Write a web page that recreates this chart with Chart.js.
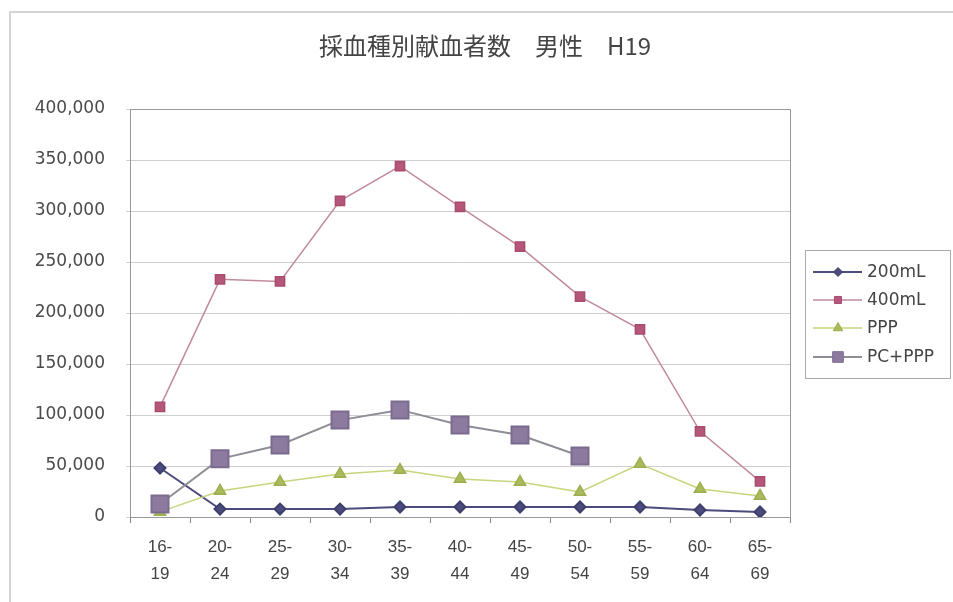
<!DOCTYPE html>
<html>
<head>
<meta charset="utf-8">
<script src="https://cdn.jsdelivr.net/npm/chart.js@4.4.1/dist/chart.umd.min.js"></script>
<style>
  html, body { margin: 0; padding: 0; background: #fff; }
  #wrap { position: relative; width: 953px; height: 602px; }
</style>
</head>
<body>
<div id="wrap"><canvas id="chart" width="953" height="602"></canvas></div>
<script>
// age groups (two-line labels) and the four series
const ageGroups = [['16-','19'],['20-','24'],['25-','29'],['30-','34'],['35-','39'],['40-','44'],['45-','49'],['50-','54'],['55-','59'],['60-','64'],['65-','69']];
const ml200 = [48000, 7800, 7800, 7800, 9800, 9800, 9800, 9800, 9800, 6900, 4900];
const ml400 = [108000, 233000, 231000, 310000, 344000, 304000, 265000, 216000, 184000, 84000, 35000];
const ppp = [5000, 25500, 34300, 42200, 46000, 37300, 34300, 24500, 52000, 27500, 20600];
const pcPpp = [12700, 57000, 70600, 95000, 105000, 90200, 80400, 59800, null, null, null];
const yTicks = [0, 50000, 100000, 150000, 200000, 250000, 300000, 350000, 400000];

const chartTitle = '採血種別献血者数　男性　H19';
const seriesNames = ['200mL', '400mL', 'PPP', 'PC+PPP'];

const ctx = document.getElementById('chart').getContext('2d');

//Frame, plot border, title and the boxed legend on the right
const decorations = {
  id: 'decorations',
  afterDraw(chart) {
    const c = chart.ctx;
    const a = chart.chartArea;
    c.save();
    c.strokeStyle = '#d4d4d4';
    c.lineWidth = 2;
    c.strokeRect(10, 12, 960, 610);

    c.strokeStyle = '#999';
    c.lineWidth = 1;
    c.strokeRect(a.left + 0.5, a.top + 0.5, a.right - a.left, a.bottom - a.top);

    c.fillStyle = '#444';
    c.font = '24px "Noto Sans CJK JP", sans-serif';
    c.textAlign = 'center';
    c.textBaseline = 'middle';
    c.fillText(chartTitle, 485, 46);

    // legend
    c.strokeStyle = '#aaa';
    c.strokeRect(805.5, 250.5, 145, 128);
    const rows = [272, 300, 328, 357];
    const legendRadius = [4.5, 5, 5.5, 7.5];
    c.font = '17px "DejaVu Sans", sans-serif';
    c.textAlign = 'left';
    chart.data.datasets.forEach((ds, i) => {
      const y = rows[i];
      c.strokeStyle = ds.borderColor;
      c.lineWidth = ds.borderWidth;
      c.beginPath();
      c.moveTo(813, y);
      c.lineTo(862, y);
      c.stroke();
      c.fillStyle = ds.backgroundColor;
      c.strokeStyle = ds.pointBorderColor;
      c.lineWidth = 1;
      Chart.helpers.drawPoint(c, {
        pointStyle: ds.pointStyle,
        radius: legendRadius[i],
        borderWidth: 1
      }, 838, y);
      c.fillStyle = '#444';
      c.fillText(seriesNames[i], 867, y + 1);
    });
    c.restore();
  }
};

new Chart(ctx, {
  type: 'line',
  data: {
    labels: ageGroups,
    datasets: [{
      label: seriesNames[0],
      data: ml200,
      borderColor: '#4b4b7d',
      backgroundColor: '#4b4b7d',
      pointBorderColor: '#3f3f6e',
      borderWidth: 2,
      pointStyle: 'rectRot',
      pointRadius: 5.5,
      order: 3
    }, {
      label: seriesNames[1],
      data: ml400,
      borderColor: '#c28a9e',
      backgroundColor: '#b5577a',
      pointBorderColor: '#a84c6e',
      borderWidth: 1.5,
      pointStyle: 'rect',
      pointRadius: 6.5,
      order: 2
    }, {
      label: seriesNames[2],
      data: ppp,
      borderColor: '#c9d47e',
      backgroundColor: '#a9bb5a',
      pointBorderColor: '#9cae50',
      borderWidth: 1.5,
      pointStyle: 'triangle',
      pointRadius: 6.5,
      order: 1
    }, {
      label: seriesNames[3],
      data: pcPpp,
      borderColor: '#8d8d96',
      backgroundColor: '#8c7b9e',
      pointBorderColor: '#7b6b8f',
      borderWidth: 2,
      pointStyle: 'rect',
      pointRadius: 12,
      order: 0
    }]
  },
  options: {
    responsive: false,
    animation: false,
    layout: { padding: { top: 109, left: 30, right: 163, bottom: 14 } },
    plugins: {
      legend: { display: false },
      title: { display: false },
      tooltip: { enabled: false }
    },
    elements: { line: { tension: 0 } },
    scales: {
      x: {
        offset: true,
        afterFit(scale) { scale.height = 71; },
        grid: {
          offset: true,
          drawOnChartArea: false,
          drawTicks: true,
          tickLength: 6,
          color: '#888'
        },
        border: { color: '#888', width: 1 },
        ticks: {
          color: '#444',
          padding: 11,
          maxRotation: 0,
          autoSkip: false,
          font: { family: '"Liberation Sans", sans-serif', size: 17, lineHeight: 1.6 }
        }
      },
      y: {
        min: 0,
        max: 400000,
        afterFit(scale) { scale.width = 100; },
        afterBuildTicks(scale) { scale.ticks = yTicks.map(v => ({ value: v })); },
        grid: { color: '#cfcfcf', tickLength: 4 },
        border: { color: '#888', width: 1 },
        ticks: {
          color: '#4a4a4a',
          padding: 21,
          font: { family: '"DejaVu Sans", sans-serif', size: 17 },
          callback: v => v.toLocaleString('en-US')
        }
      }
    }
  },
  plugins: [decorations]
});
</script>
</body>
</html>
